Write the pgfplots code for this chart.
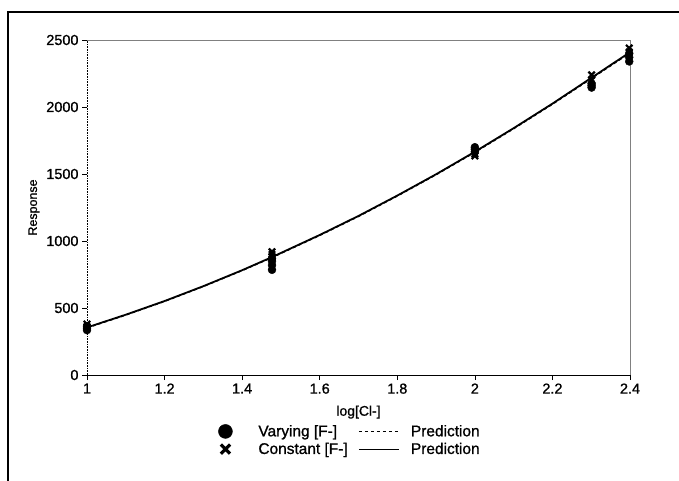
\documentclass[border=0pt]{standalone}
\usepackage{fontspec}
\setmainfont{Liberation Sans}[FakeBold=1.0]
\usepackage{pgfplots}
\pgfplotsset{compat=1.18}
\pgfplotsset{
  markleg/.style={legend image code/.code={\path[draw=none,fill=none] (-8bp,-6bp) rectangle (31bp,6bp); \draw[##1, mark size=7bp] plot coordinates {(0bp,0bp)};}},
  crossleg/.style={legend image code/.code={\path[draw=none,fill=none] (-8bp,-6bp) rectangle (31bp,6bp); \draw[##1, mark size=6.5bp, line width=3.2bp] plot coordinates {(0bp,0bp)};}},
  lineleg/.style={legend image code/.code={\path[draw=none,fill=none] (0bp,-3bp) rectangle (50bp,3bp); \draw[##1, line width=0.6bp] (0bp,0bp) -- (40bp,0bp);}},
}
\begin{document}
\begin{tikzpicture}
\useasboundingbox (0,0) rectangle (679bp,481bp);
\draw[line width=1.8bp] (8bp,0) -- (8bp,469bp) -- (679bp,469bp);
\begin{axis}[
  at={(87bp,106bp)}, anchor=south west,
  scale only axis, width=543bp, height=335bp,
  xmin=1, xmax=2.4, ymin=0, ymax=2500,
  axis lines*=left,
  x axis line style={-, black, line width=0.9bp},
  y axis line style={-, black, densely dotted, line width=0.6bp},
  xtick={1,1.2,1.4,1.6,1.8,2,2.2,2.4},
  ytick={0,500,1000,1500,2000,2500},
  tick align=outside,
  major tick length=5bp,
  tick style={black, line width=0.6bp, solid},
  /pgf/number format/assume math mode=true,
  scaled y ticks=false,
  yticklabel style={/pgf/number format/.cd, set thousands separator={}, fixed},
  xticklabel style={/pgf/number format/.cd, fixed},
  tick label style={font=\fontsize{14.5}{16}\selectfont},
  xlabel={log[Cl-]},
  ylabel={Response},
  xlabel style={font=\fontsize{14}{16}\selectfont, yshift=-5bp},
  ylabel style={font=\fontsize{12.5}{14}\selectfont, yshift=0bp},
  legend columns=2,
  legend cell align=left,
  legend style={draw=none, fill=none, at={(0.238,-0.14)}, anchor=north west,
    font=\fontsize{15.5}{17}\selectfont, row sep=1bp, inner sep=1bp,
    /tikz/every even column/.append style={column sep=9bp}},
  clip=false,
]
\draw[gray, line width=0.7bp] (rel axis cs:0,1) -- (rel axis cs:1,1) -- (rel axis cs:1,0);

\addplot[only marks, mark=*, mark size=4bp, black, markleg]
  coordinates {
  (1,335)(1,350)(1,365)
  (1.477,785)(1.477,820)(1.477,850)(1.477,870)
  (2,1665)(2,1685)(2,1700)
  (2.301,2145)(2.301,2160)(2.301,2175)
  (2.398,2340)(2.398,2370)(2.398,2400)
  };
\addlegendentry{Varying [F-]}

\addplot[black, dashed, line width=1bp, lineleg]
  coordinates {
  (1.0,350)(1.1,446)(1.2,548)(1.3,659)(1.4,778)(1.477,875)(1.6,1040)(1.7,1182)
  (1.8,1334)(1.9,1493)(2.0,1660)(2.1,1836)(2.2,2019)(2.3,2210)(2.398,2398)
  };
\addlegendentry{Prediction}

\addplot[only marks, mark=x, mark size=4.5bp, black, line width=2.2bp, crossleg]
  coordinates {
  (1,360)(1,380)
  (1.477,880)(1.477,900)(1.477,920)
  (2,1635)(2,1650)
  (2.301,2200)(2.301,2240)
  (2.398,2410)(2.398,2440)
  };
\addlegendentry{Constant [F-]}

\addplot[black, line width=1.8bp, lineleg]
  coordinates {
  (1.0,355)(1.1,450)(1.2,552)(1.3,663)(1.4,782)(1.477,880)(1.6,1045)(1.7,1187)
  (1.8,1339)(1.9,1498)(2.0,1666)(2.1,1842)(2.2,2025)(2.3,2217)(2.398,2405)
  };
\addlegendentry{Prediction}
\end{axis}
\end{tikzpicture}
\end{document}
